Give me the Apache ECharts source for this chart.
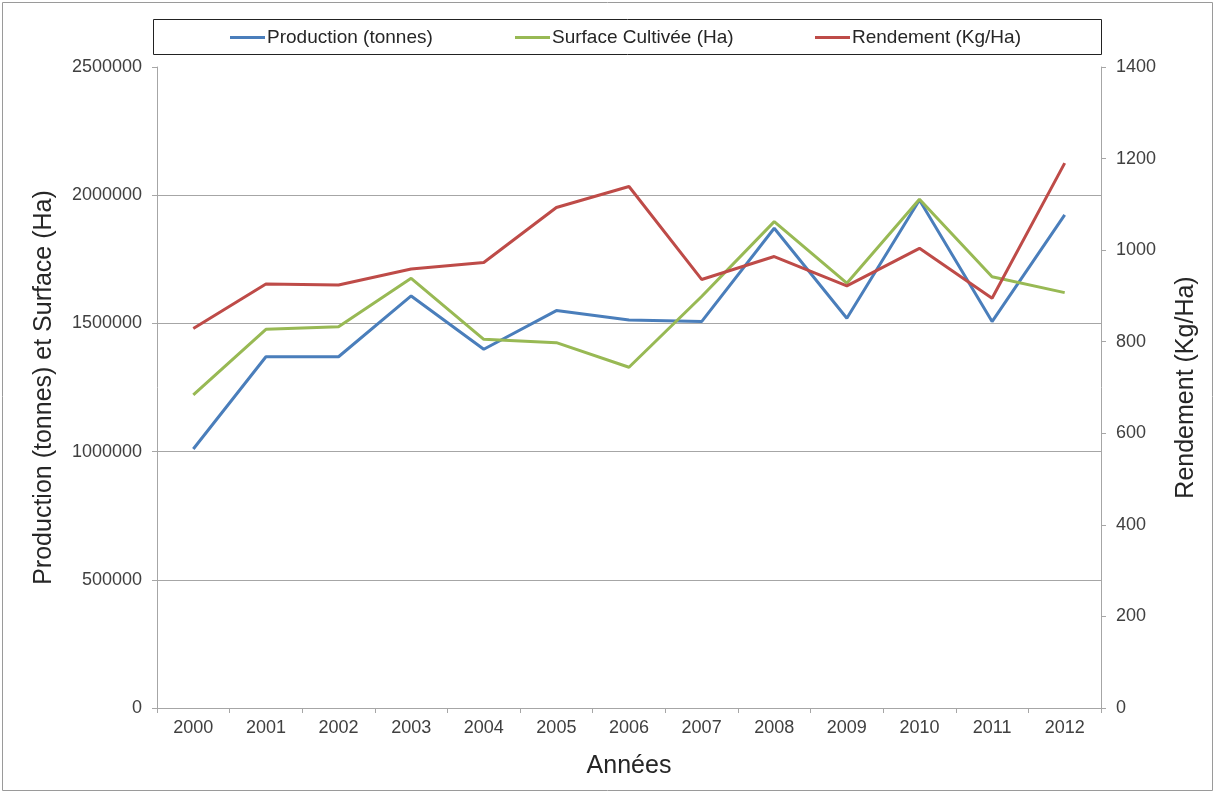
<!DOCTYPE html>
<html>
<head>
<meta charset="utf-8">
<script src="https://cdn.jsdelivr.net/npm/echarts@6/dist/echarts.min.js"></script>
<style>html,body{margin:0;padding:0;background:#fff;}#c{width:1217px;height:796px;}</style>
</head>
<body>
<div id="c"></div>
<script>
const years = ['2000','2001','2002','2003','2004','2005','2006','2007','2008','2009','2010','2011','2012'];
const production = [1010000,1370000,1370000,1607000,1399000,1550000,1513000,1507000,1871000,1520000,1981000,1507000,1923000];
const surface = [1221000,1477000,1487000,1676000,1438000,1425000,1329000,1605000,1897000,1657000,1984000,1682000,1620000];
const rendement = [829,926,924,959,973,1093,1139,936,986,922,1004,895,1190];
const leftTicks = [0,500000,1000000,1500000,2000000,2500000];
const rightTicks = [0,200,400,600,800,1000,1200,1400];
const seriesNames = ['Production (tonnes)','Surface Cultivée (Ha)','Rendement (Kg/Ha)'];

const chart = echarts.init(document.getElementById('c'));
const axisColor = '#a6a6a6';
const FF = 'Liberation Sans, Arial, sans-serif';
const labelFont = {color:'#404040', fontSize:18, fontFamily:FF};
const nameFont = {color:'#262626', fontSize:25, fontFamily:FF};
const legendLefts = [230, 515, 815];
chart.setOption({
  animation:false,
  backgroundColor:'#fff',
  graphic:[
    {type:'rect', shape:{x:2.5,y:2.5,width:1210,height:788}, style:{fill:'none', stroke:'#9a9a9a', lineWidth:1}},
    {type:'rect', shape:{x:153.5,y:19.5,width:948,height:35}, style:{fill:'#fff', stroke:'#222', lineWidth:1}}
  ],
  legend: seriesNames.map((n,i)=>({
    top:28, left:legendLefts[i], padding:0, itemWidth:35, itemHeight:3, icon:'rect',
    textStyle:{color:'#262626', fontSize:19, fontFamily:FF, padding:[0,0,0,-3]},
    data:[n]
  })),
  grid:{left:157, right:116, top:67, bottom:88, containLabel:false},
  xAxis:{
    type:'category', data:years, boundaryGap:true,
    name:'Années', nameLocation:'middle', nameGap:46,
    nameTextStyle:nameFont,
    axisLine:{lineStyle:{color:axisColor, width:1}},
    axisTick:{show:true, alignWithLabel:false, length:5, lineStyle:{color:axisColor}},
    axisLabel:{...labelFont, margin:11}
  },
  yAxis:[
    {
      type:'value', min:leftTicks[0], max:leftTicks[leftTicks.length-1], interval:500000,
      name:'Production (tonnes) et Surface (Ha)', nameLocation:'middle', nameGap:100,
      nameTextStyle:nameFont,
      axisLine:{show:true, lineStyle:{color:axisColor}},
      axisTick:{show:true, length:5, lineStyle:{color:axisColor}},
      axisLabel:{...labelFont, margin:15, formatter:(v)=>String(v)},
      splitLine:{show:true, showMaxLine:false, lineStyle:{color:'#a6a6a6', width:1}}
    },
    {
      type:'value', min:rightTicks[0], max:rightTicks[rightTicks.length-1], interval:200, position:'right',
      name:'Rendement (Kg/Ha)', nameLocation:'middle', nameGap:73,
      nameTextStyle:nameFont,
      axisLine:{show:true, lineStyle:{color:axisColor}},
      axisTick:{show:true, length:5, lineStyle:{color:axisColor}},
      axisLabel:{...labelFont, margin:15, formatter:(v)=>String(v)},
      splitLine:{show:false}
    }
  ],
  series:[
    {name:seriesNames[0], type:'line', data:production, yAxisIndex:0, symbol:'none', lineStyle:{width:3, color:'#4a7ebb'}, itemStyle:{color:'#4a7ebb'}},
    {name:seriesNames[1], type:'line', data:surface, yAxisIndex:0, symbol:'none', lineStyle:{width:3, color:'#98b954'}, itemStyle:{color:'#98b954'}},
    {name:seriesNames[2], type:'line', data:rendement, yAxisIndex:1, symbol:'none', lineStyle:{width:3, color:'#be4b48'}, itemStyle:{color:'#be4b48'}}
  ]
});
</script>
</body>
</html>
